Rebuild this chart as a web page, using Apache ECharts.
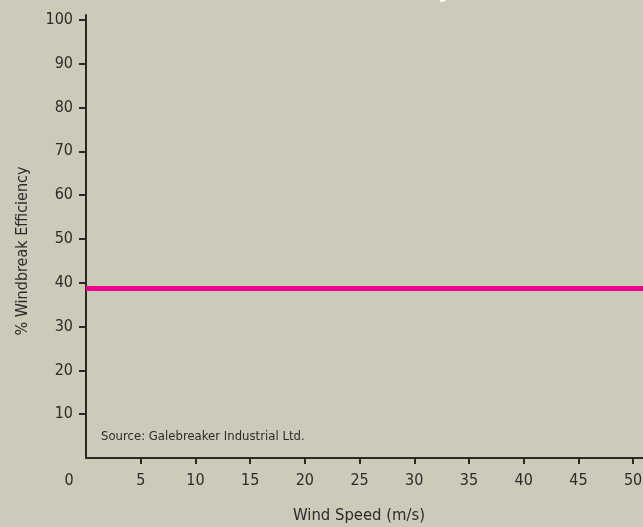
<!DOCTYPE html>
<html>
<head>
<meta charset="utf-8">
<style>
html,body{margin:0;padding:0;background:#cccbb9;}
#chart{width:643px;height:527px;}
</style>
<script src="https://cdn.jsdelivr.net/npm/echarts@6/dist/echarts.min.js"></script>
</head>
<body>
<div id="chart"></div>
<script>
// Data
var windSpeed = [0, 5, 10, 15, 20, 25, 30, 35, 40, 45, 50, 52];
var efficiency = [38.7, 38.7, 38.7, 38.7, 38.7, 38.7, 38.7, 38.7, 38.7, 38.7, 38.7, 38.7];
var xTicks = [0, 5, 10, 15, 20, 25, 30, 35, 40, 45, 50];
var yTicks = [10, 20, 30, 40, 50, 60, 70, 80, 90, 100];
var titleText = 'Windbreak Efficiency';
var sourceText = 'Source: Galebreaker Industrial Ltd.';
var xName = 'Wind Speed (m/s)';
var yName = '% Windbreak Efficiency';

var FONT = '"DejaVu Sans Condensed", "Liberation Sans Narrow", "Liberation Sans", sans-serif';
var TXT = '#2b2b2b';
var AXIS = '#2a2826';

var chart = echarts.init(document.getElementById('chart'), null, {renderer: 'canvas'});
chart.setOption({
  backgroundColor: '#cccbb9',
  animation: false,
  grid: {left: 86, right: -12, top: 15, bottom: 69, containLabel: false, outerBoundsMode: 'none'},
  graphic: [
    {type: 'text', left: 101, top: 430, style: {text: sourceText, fill: TXT, font: '13px ' + FONT}},
    {type: 'text', x: 452, y: 3, style: {text: titleText, fill: '#ffffff', font: 'bold 24px ' + FONT, align: 'right', verticalAlign: 'bottom'}}
  ],
  xAxis: {
    type: 'value',
    min: 0,
    max: 52,
    name: xName,
    nameLocation: 'middle',
    nameGap: 49,
    nameTextStyle: {color: TXT, fontFamily: FONT, fontSize: 16.5, padding: [0, 23, 0, 0]},
    axisLine: {show: true, lineStyle: {color: AXIS, width: 2}},
    axisTick: {show: true, length: 6, inside: false, lineStyle: {color: AXIS, width: 2}, customValues: xTicks.slice(1)},
    axisLabel: {
      color: TXT, fontFamily: FONT, fontSize: 16, margin: 15,
      customValues: xTicks,
      formatter: function (v) { return v === 0 ? '{z|0}' : String(v); },
      rich: {z: {color: TXT, fontFamily: FONT, fontSize: 16, padding: [0, 34, 0, 0]}}
    },
    splitLine: {show: false}
  },
  yAxis: {
    type: 'value',
    min: 0,
    max: 101.1,
    name: yName,
    nameLocation: 'middle',
    nameGap: 55,
    nameRotate: 90,
    nameTextStyle: {color: TXT, fontFamily: FONT, fontSize: 16, padding: [0, 29, 0, 0]},
    axisLine: {show: true, lineStyle: {color: AXIS, width: 2}},
    axisTick: {show: true, length: 7, inside: false, lineStyle: {color: AXIS, width: 2}, customValues: yTicks},
    axisLabel: {color: TXT, fontFamily: FONT, fontSize: 16, margin: 13, customValues: yTicks},
    splitLine: {show: false}
  },
  series: [{
    type: 'line',
    data: windSpeed.map(function (x, i) { return [x, efficiency[i]]; }),
    showSymbol: false,
    symbol: 'none',
    lineStyle: {color: '#ec008c', width: 5},
    clip: true
  }]
});
</script>
</body>
</html>
